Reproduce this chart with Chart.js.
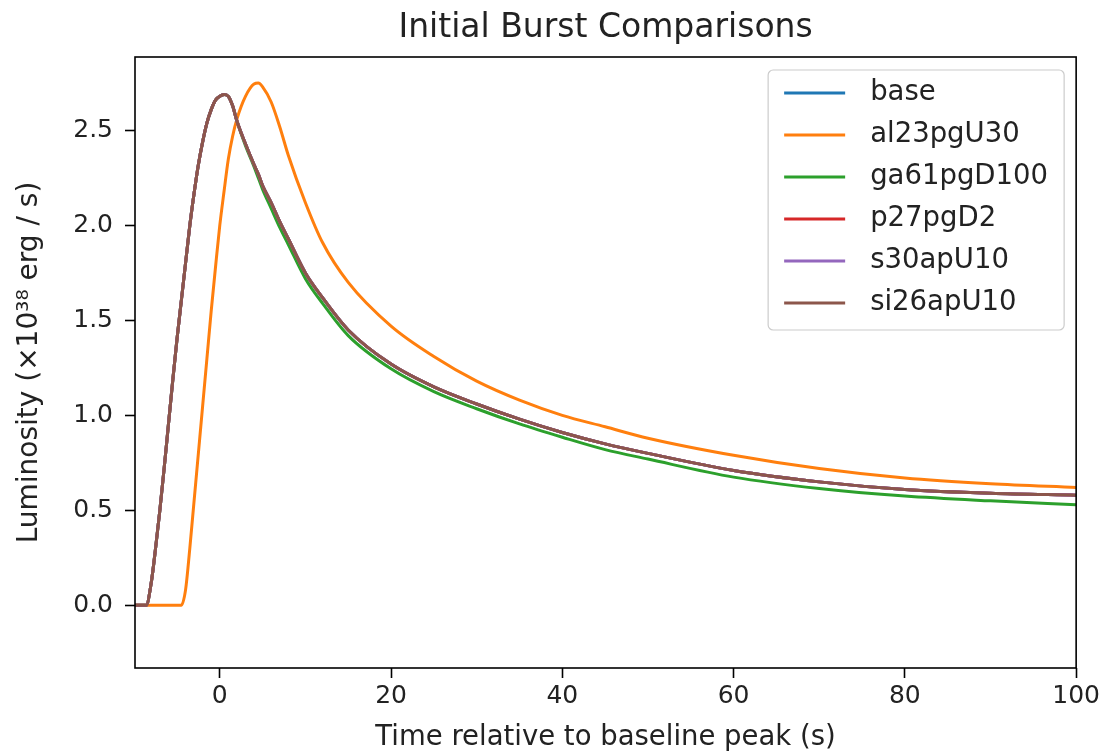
<!DOCTYPE html>
<html>
<head>
<meta charset="utf-8">
<script src="https://cdn.jsdelivr.net/npm/chart.js@4.4.1/dist/chart.umd.min.js"></script>
<style>
  body { margin: 0; background: #fff; }
</style>
</head>
<body>
<canvas id="chart" width="1103" height="754"></canvas>
<script>
// time relative to baseline peak (s)
const times = [-10, -9, -8.6, -8, -7.5, -7, -6.5, -6, -5.5, -5,
    -4.5, -4, -3.5, -3, -2.5, -2, -1.5, -1, -0.5, 0,
    0.5, 1, 1.5, 2, 3, 4, 4.5, 5, 6, 7,
    8, 10, 12, 15, 20, 25, 30, 35, 40, 45,
    50, 60, 70, 80, 90, 100];

// luminosity (x1e38 erg/s)
const base = [0, 0, 0, 0.12, 0.30, 0.50, 0.72, 0.95, 1.18, 1.40,
    1.60, 1.80, 2.00, 2.17, 2.32, 2.44, 2.54, 2.61, 2.66, 2.68,
    2.69, 2.68, 2.63, 2.55, 2.43, 2.32, 2.27, 2.21, 2.12, 2.02,
    1.93, 1.75, 1.62, 1.45, 1.27, 1.15, 1.06, 0.98, 0.91, 0.85,
    0.80, 0.71, 0.65, 0.61, 0.59, 0.58];
const al23pgU30 = [0, 0, 0, 0, 0, 0, 0, 0, 0, 0,
    0, 0.08, 0.30, 0.55, 0.80, 1.05, 1.30, 1.55, 1.78, 2.00,
    2.18, 2.35, 2.47, 2.56, 2.68, 2.745, 2.75, 2.73, 2.65, 2.52,
    2.37, 2.12, 1.91, 1.70, 1.47, 1.31, 1.18, 1.08, 1.00, 0.94,
    0.88, 0.79, 0.72, 0.67, 0.64, 0.62];
const ga61pgD100 = [0, 0, 0, 0.12, 0.30, 0.50, 0.72, 0.95, 1.18, 1.40,
    1.60, 1.80, 2.00, 2.17, 2.32, 2.44, 2.54, 2.61, 2.66, 2.68,
    2.69, 2.68, 2.63, 2.55, 2.42, 2.31, 2.25, 2.19, 2.09, 1.99,
    1.90, 1.72, 1.59, 1.42, 1.245, 1.125, 1.035, 0.955, 0.885, 0.82,
    0.77, 0.675, 0.615, 0.575, 0.55, 0.53];
const p27pgD2 = [0, 0, 0, 0.12, 0.30, 0.50, 0.72, 0.95, 1.18, 1.40,
    1.60, 1.80, 2.00, 2.17, 2.32, 2.44, 2.54, 2.61, 2.66, 2.68,
    2.69, 2.68, 2.63, 2.55, 2.43, 2.32, 2.27, 2.21, 2.12, 2.02,
    1.93, 1.75, 1.62, 1.45, 1.27, 1.15, 1.06, 0.98, 0.91, 0.85,
    0.80, 0.71, 0.65, 0.61, 0.59, 0.58];
const s30apU10 = [0, 0, 0, 0.12, 0.30, 0.50, 0.72, 0.95, 1.18, 1.40,
    1.60, 1.80, 2.00, 2.17, 2.32, 2.44, 2.54, 2.61, 2.66, 2.68,
    2.69, 2.68, 2.63, 2.55, 2.43, 2.32, 2.27, 2.21, 2.12, 2.02,
    1.93, 1.75, 1.62, 1.45, 1.27, 1.15, 1.06, 0.98, 0.91, 0.85,
    0.80, 0.71, 0.65, 0.61, 0.59, 0.58];
const si26apU10 = [0, 0, 0, 0.12, 0.30, 0.50, 0.72, 0.95, 1.18, 1.40,
    1.60, 1.80, 2.00, 2.17, 2.32, 2.44, 2.54, 2.61, 2.66, 2.68,
    2.69, 2.68, 2.63, 2.55, 2.43, 2.32, 2.27, 2.21, 2.12, 2.02,
    1.93, 1.75, 1.62, 1.45, 1.27, 1.15, 1.06, 0.98, 0.91, 0.85,
    0.80, 0.71, 0.65, 0.61, 0.59, 0.58];

const labels = ['base', 'al23pgU30', 'ga61pgD100', 'p27pgD2', 's30apU10', 'si26apU10'];
const series = [base, al23pgU30, ga61pgD100, p27pgD2, s30apU10, si26apU10];
const colors = ['#1f77b4', '#ff7f0e', '#2ca02c', '#d62728', '#9467bd', '#8c564b'];

const xTicks = [0, 20, 40, 60, 80, 100];
const yTicks = [0, 0.5, 1.0, 1.5, 2.0, 2.5];

const FONT = '"DejaVu Sans", sans-serif';
const TEXT = '#222';
const TITLE = 'Initial Burst Comparisons';

// matplotlib-ish frame, title over the axes, legend box inside the axes
const frameLegend = {
    id: 'frameLegend',
    afterDatasetsDraw(chart) {
        const ctx = chart.ctx;
        const a = chart.chartArea;
        ctx.save();
        ctx.strokeStyle = '#000';
        ctx.lineWidth = 1.6;
        ctx.strokeRect(a.left, a.top, a.right - a.left, a.bottom - a.top);

        ctx.fillStyle = TEXT;
        ctx.font = '33px ' + FONT;
        ctx.textAlign = 'center';
        ctx.textBaseline = 'middle';
        ctx.fillText(TITLE, (a.left + a.right) / 2, 28);

        const w = 296, h = 260;
        const x0 = a.right - 12 - w, y0 = a.top + 13;
        ctx.beginPath();
        ctx.roundRect(x0, y0, w, h, 5);
        ctx.fillStyle = 'rgba(255,255,255,0.8)';
        ctx.fill();
        ctx.strokeStyle = '#cccccc';
        ctx.lineWidth = 1.2;
        ctx.stroke();

        ctx.font = '27.5px ' + FONT;
        ctx.textAlign = 'left';
        chart.data.datasets.forEach((ds, i) => {
            const y = y0 + 23 + i * 42;
            ctx.beginPath();
            ctx.moveTo(x0 + 16, y);
            ctx.lineTo(x0 + 77, y);
            ctx.strokeStyle = ds.borderColor;
            ctx.lineWidth = 3;
            ctx.stroke();
            ctx.fillStyle = TEXT;
            ctx.fillText(ds.label, x0 + 102, y);
        });
        ctx.restore();
    }
};

const datasets = labels.map((name, i) => ({
    label: name,
    data: times.map((t, j) => ({ x: t, y: series[i][j] })),
    borderColor: colors[i],
    backgroundColor: colors[i],
    borderWidth: 3,
    pointRadius: 0,
    cubicInterpolationMode: 'monotone',
    fill: false,
    order: labels.length - i   // later series on top, like matplotlib
}));

new Chart(document.getElementById('chart'), {
    type: 'line',
    data: { datasets: datasets },
    options: {
        responsive: false,
        devicePixelRatio: 1,
        animation: false,
        layout: { padding: { left: 0, right: 26, top: 57, bottom: 0 } },
        plugins: {
            legend: { display: false },
            tooltip: { enabled: false },
            title: { display: false }
        },
        scales: {
            x: {
                type: 'linear',
                min: -9.9,
                max: 100,
                afterBuildTicks: (s) => { s.ticks = xTicks.map(v => ({ value: v })); },
                afterFit: (s) => { s.height = 86; },
                border: { display: false },
                grid: { drawOnChartArea: false, drawTicks: true, tickLength: 10, tickWidth: 1.6, tickColor: '#000' },
                ticks: { color: TEXT, font: { family: FONT, size: 25 }, padding: 3, maxRotation: 0 },
                title: {
                    display: true,
                    text: 'Time relative to baseline peak (s)',
                    color: TEXT,
                    font: { family: FONT, size: 27.5 },
                    padding: { top: 0, bottom: 0 }
                }
            },
            y: {
                type: 'linear',
                min: -0.33,
                max: 2.887,
                afterBuildTicks: (s) => { s.ticks = yTicks.map(v => ({ value: v })); },
                afterFit: (s) => { s.width = 135; },
                border: { display: false },
                grid: { drawOnChartArea: false, drawTicks: true, tickLength: 10, tickWidth: 1.6, tickColor: '#000' },
                ticks: {
                    color: TEXT,
                    font: { family: FONT, size: 25 },
                    padding: 12,
                    callback: (v) => Number(v).toFixed(1)
                },
                title: {
                    display: true,
                    text: 'Luminosity (×10³⁸ erg / s)',
                    color: TEXT,
                    font: { family: FONT, size: 28 },
                    padding: { top: 13, bottom: 0 }
                }
            }
        }
    },
    plugins: [frameLegend]
});
</script>
</body>
</html>
